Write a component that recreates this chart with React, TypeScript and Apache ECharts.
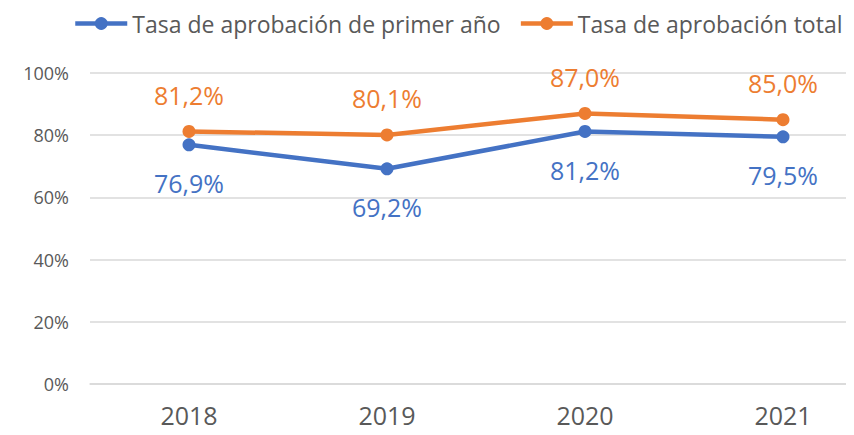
import React, { useEffect, useRef } from "react";
import * as echarts from "echarts";

const categories = ["2018", "2019", "2020", "2021"];
const firstYearRate = [76.9, 69.2, 81.2, 79.5];
const totalRate = [81.2, 80.1, 87.0, 85.0];
const seriesNames = ["Tasa de aprobación de primer año", "Tasa de aprobación total"];
const yTicks = [0, 20, 40, 60, 80, 100];

const BLUE = "#4472C4";
const ORANGE = "#ED7D31";
const TEXT = "#595959";
const GRID = "#D9D9D9";
const FONT = "'Open Sans', 'Noto Sans', sans-serif";

const fmt = (v: number) => v.toFixed(1).replace(".", ",") + "%";

export default function App() {
  const ref = useRef<HTMLDivElement>(null);
  useEffect(() => {
    if (!ref.current) return;
    const chart = echarts.init(ref.current, undefined, { renderer: "svg" });
    chart.setOption({
      animation: false,
      backgroundColor: "#ffffff",
      textStyle: { fontFamily: FONT },
      legend: {
        left: 68,
        top: 7,
        itemWidth: 52,
        itemHeight: 16,
        itemGap: 18,
        lineStyle: { width: 4.5 },
        textStyle: { color: TEXT, fontSize: 23, fontFamily: FONT },
        data: seriesNames,
      },
      grid: {
        left: 90,
        width: 792,
        top: 73,
        bottom: 51,
        containLabel: false,
        outerBoundsMode: "none",
      },
      xAxis: {
        type: "category",
        data: categories,
        boundaryGap: true,
        axisLine: { show: true, lineStyle: { color: GRID, width: 1.5 } },
        axisTick: { show: false },
        axisLabel: { color: TEXT, fontSize: 25, fontFamily: FONT, margin: 18 },
      },
      yAxis: {
        type: "value",
        min: yTicks[0],
        max: yTicks[yTicks.length - 1],
        interval: 20,
        axisLine: { show: false },
        axisTick: { show: false },
        axisLabel: {
          color: TEXT,
          fontSize: 18,
          fontFamily: FONT,
          margin: 21,
          formatter: (v: number) => `${v}%`,
        },
        splitLine: { lineStyle: { color: GRID, width: 1.5 } },
      },
      series: [
        {
          name: seriesNames[0],
          type: "line",
          data: firstYearRate,
          color: BLUE,
          symbol: "circle",
          symbolSize: 13,
          lineStyle: { width: 4.5, color: BLUE },
          itemStyle: { color: BLUE },
          label: {
            show: true,
            position: "bottom",
            distance: 17,
            color: BLUE,
            fontSize: 25,
            lineHeight: 30,
            fontFamily: FONT,
            formatter: (p: any) => fmt(p.value),
          },
        },
        {
          name: seriesNames[1],
          type: "line",
          data: totalRate,
          color: ORANGE,
          symbol: "circle",
          symbolSize: 13,
          lineStyle: { width: 4.5, color: ORANGE },
          itemStyle: { color: ORANGE },
          label: {
            show: true,
            position: "top",
            distance: 15,
            color: ORANGE,
            fontSize: 25,
            lineHeight: 30,
            fontFamily: FONT,
            formatter: (p: any) => fmt(p.value),
          },
        },
      ],
    });
    return () => chart.dispose();
  }, []);
  return <div ref={ref} style={{ width: 854, height: 435, margin: -8 }} />;
}
